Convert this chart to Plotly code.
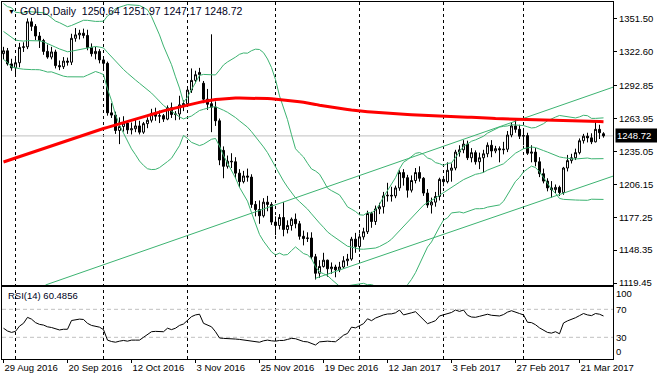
import numpy as np
import pandas as pd
import plotly.graph_objects as go

# ---------------- data ----------------
symbol_title = "GOLD,Daily"

# trading days shown (weekdays, broker closed 26 Dec 2016 and 2 Jan 2017)
dates = pd.bdate_range("2016-08-29", "2017-03-29")
dates = dates.drop([pd.Timestamp("2016-12-26"), pd.Timestamp("2017-01-02")])

# closes of the 20 sessions before the first visible bar (for Bollinger 20)
pre_close = [1352.5, 1366.5, 1357.0, 1363.0, 1335.5, 1335.0, 1340.0, 1346.0, 1337.0, 1335.5,
             1339.0, 1346.0, 1350.0, 1349.5, 1341.0, 1338.0, 1339.5, 1324.5, 1323.0, 1321.0]

open_ = [1321.0, 1323.5, 1312.0, 1308.5, 1313.0, 1326.5, 1327.0, 1349.0, 1345.0, 1336.5,
         1332.5, 1323.0, 1318.0, 1322.5, 1310.5, 1309.5, 1314.5, 1313.5, 1334.5, 1337.5,
         1339.0, 1337.0, 1326.5, 1321.0, 1323.0, 1315.5, 1312.5, 1269.0, 1267.0, 1253.5,
         1257.0, 1260.0, 1254.0, 1255.0, 1257.5, 1252.0, 1259.5, 1262.5, 1268.5, 1266.0,
         1266.5, 1263.5, 1273.5, 1267.5, 1268.0, 1276.0, 1277.0, 1289.0, 1297.5, 1302.5,
         1295.0, 1281.0, 1277.0, 1274.0, 1262.0, 1236.0, 1222.0, 1226.5, 1226.0, 1216.0,
         1208.5, 1213.5, 1212.5, 1188.5, 1184.0, 1178.5, 1190.5, 1188.5, 1173.0, 1170.0,
         1177.0, 1166.5, 1170.0, 1175.5, 1171.5, 1160.5, 1158.5, 1159.0, 1142.5, 1128.0,
         1134.0, 1139.5, 1132.0, 1133.5, 1131.0, 1133.5, 1139.0, 1140.5, 1158.0, 1151.5,
         1160.0, 1164.5, 1180.5, 1173.5, 1184.5, 1186.5, 1196.0, 1196.5, 1196.0, 1203.0,
         1216.5, 1212.0, 1201.0, 1209.5, 1216.5, 1211.5, 1198.5, 1188.0, 1190.5, 1195.5,
         1210.5, 1208.5, 1218.5, 1220.5, 1234.5, 1236.5, 1241.5, 1229.5, 1234.0, 1226.0,
         1229.5, 1233.0, 1240.5, 1235.5, 1237.5, 1236.5, 1237.0, 1249.5, 1257.5, 1254.5,
         1248.5, 1249.0, 1233.5, 1234.5, 1226.0, 1215.5, 1209.0, 1203.0, 1201.5, 1203.5,
         1199.0, 1220.5, 1227.0, 1229.5, 1234.0, 1244.5, 1248.5, 1247.0, 1243.5, 1254.5,
         1250.64]
high = [1327.0, 1326.0, 1316.5, 1316.5, 1330.5, 1331.0, 1352.0, 1352.5, 1347.0, 1340.0,
        1334.0, 1329.0, 1327.0, 1324.5, 1315.0, 1318.0, 1317.5, 1338.5, 1343.5, 1342.0,
        1343.0, 1342.0, 1330.0, 1327.0, 1325.0, 1318.0, 1314.0, 1277.5, 1270.0, 1265.0,
        1266.0, 1262.5, 1260.5, 1263.0, 1262.0, 1261.0, 1265.0, 1272.5, 1273.5, 1271.0,
        1268.0, 1275.5, 1278.0, 1270.5, 1284.0, 1280.0, 1291.0, 1308.0, 1306.0, 1308.5,
        1297.0, 1290.0, 1338.0, 1279.0, 1264.0, 1239.5, 1231.5, 1233.5, 1230.0, 1219.5,
        1218.0, 1220.0, 1215.0, 1191.5, 1192.0, 1194.0, 1196.0, 1190.5, 1178.0, 1180.0,
        1190.5, 1174.5, 1177.0, 1180.5, 1174.0, 1165.5, 1164.0, 1164.0, 1145.0, 1139.5,
        1146.0, 1140.0, 1137.5, 1135.5, 1138.0, 1143.0, 1145.0, 1160.0, 1163.5, 1163.0,
        1168.0, 1183.0, 1182.0, 1187.5, 1190.0, 1199.5, 1207.5, 1204.0, 1205.0, 1218.5,
        1219.5, 1214.5, 1214.0, 1220.5, 1222.0, 1212.5, 1202.0, 1194.5, 1199.5, 1212.0,
        1213.5, 1225.5, 1224.5, 1236.5, 1240.5, 1245.0, 1244.5, 1238.0, 1236.0, 1234.0,
        1236.5, 1243.0, 1245.0, 1240.0, 1239.5, 1243.5, 1253.0, 1260.5, 1263.5, 1258.5,
        1253.0, 1251.5, 1240.5, 1238.0, 1230.0, 1220.0, 1211.5, 1209.0, 1206.0, 1205.0,
        1221.5, 1232.0, 1233.0, 1237.5, 1246.5, 1250.5, 1251.5, 1251.0, 1261.0, 1258.5,
        1251.97]
low = [1316.0, 1310.5, 1306.0, 1302.5, 1309.0, 1322.5, 1325.0, 1341.0, 1333.0, 1326.0,
       1320.0, 1316.5, 1316.0, 1308.0, 1306.5, 1307.5, 1310.5, 1311.0, 1331.5, 1333.5,
       1334.5, 1324.0, 1318.5, 1316.0, 1312.5, 1308.0, 1266.5, 1264.5, 1250.5, 1241.5,
       1252.5, 1250.5, 1250.0, 1252.0, 1250.0, 1250.5, 1255.5, 1260.5, 1262.0, 1260.0,
       1261.0, 1262.5, 1264.5, 1262.5, 1263.0, 1270.5, 1274.5, 1286.5, 1295.0, 1296.5,
       1277.5, 1271.5, 1252.0, 1257.5, 1223.0, 1211.5, 1220.0, 1220.5, 1211.5, 1203.5,
       1207.0, 1208.5, 1185.5, 1178.0, 1171.5, 1177.0, 1182.5, 1170.5, 1161.5, 1166.5,
       1160.5, 1163.0, 1165.5, 1167.5, 1157.5, 1152.5, 1155.5, 1140.5, 1122.5, 1124.0,
       1133.0, 1125.0, 1127.5, 1124.5, 1129.0, 1132.0, 1134.5, 1139.0, 1146.0, 1147.0,
       1157.5, 1162.5, 1168.0, 1170.5, 1180.0, 1180.5, 1191.0, 1191.0, 1194.0, 1200.5,
       1205.0, 1194.5, 1199.0, 1207.0, 1208.5, 1196.0, 1185.5, 1180.5, 1186.5, 1192.0,
       1204.5, 1207.0, 1208.5, 1218.5, 1230.5, 1233.5, 1227.5, 1225.5, 1223.5, 1219.5,
       1216.5, 1230.0, 1230.0, 1233.5, 1225.5, 1232.5, 1234.5, 1247.5, 1251.5, 1246.0,
       1240.5, 1232.0, 1225.5, 1222.0, 1212.5, 1207.0, 1200.0, 1194.5, 1198.5, 1196.0,
       1197.0, 1217.5, 1224.5, 1227.5, 1232.5, 1242.0, 1243.0, 1241.5, 1243.0, 1246.0,
       1247.17]
close = [1323.5, 1312.0, 1308.5, 1313.0, 1326.5, 1327.0, 1349.0, 1345.0, 1336.5, 1332.5,
         1323.0, 1318.0, 1322.5, 1310.5, 1309.5, 1314.5, 1313.5, 1334.5, 1337.5, 1339.0,
         1337.0, 1326.5, 1321.0, 1323.0, 1315.5, 1312.5, 1269.0, 1267.0, 1253.5, 1257.0,
         1260.0, 1254.0, 1255.0, 1257.5, 1252.0, 1259.5, 1262.5, 1268.5, 1266.0, 1266.5,
         1263.5, 1273.5, 1267.5, 1268.0, 1276.0, 1277.0, 1289.0, 1297.5, 1302.5, 1304.5,
         1281.0, 1276.5, 1274.0, 1262.0, 1227.5, 1222.0, 1226.5, 1226.0, 1216.0, 1208.5,
         1213.5, 1212.5, 1188.5, 1184.0, 1178.5, 1190.5, 1188.5, 1173.0, 1170.0, 1177.0,
         1166.5, 1170.0, 1175.5, 1171.5, 1160.5, 1158.5, 1159.0, 1142.5, 1128.0, 1134.0,
         1139.5, 1132.0, 1133.5, 1131.0, 1133.5, 1139.0, 1140.5, 1158.0, 1151.5, 1160.0,
         1164.5, 1180.5, 1173.5, 1184.5, 1186.5, 1196.0, 1196.5, 1196.0, 1203.0, 1216.5,
         1212.0, 1201.0, 1209.5, 1216.5, 1211.5, 1198.5, 1188.0, 1190.5, 1195.5, 1210.5,
         1208.5, 1218.5, 1220.5, 1234.5, 1236.5, 1241.5, 1229.5, 1234.0, 1226.0, 1229.5,
         1233.0, 1240.5, 1235.5, 1237.5, 1236.5, 1237.0, 1249.5, 1257.5, 1254.5, 1248.5,
         1249.0, 1233.5, 1234.5, 1226.0, 1215.5, 1209.0, 1203.0, 1201.5, 1203.5, 1199.0,
         1220.5, 1227.0, 1229.5, 1234.0, 1244.5, 1248.5, 1247.0, 1243.5, 1254.5, 1251.5,
         1248.72]

# 200-period moving average
ma200 = [1225.8, 1227.0, 1228.2, 1229.4, 1230.6, 1231.8, 1233.0, 1234.2, 1235.4, 1236.6,
         1237.8, 1239.0, 1240.2, 1241.4, 1242.5, 1243.7, 1244.9, 1246.1, 1247.3, 1248.5,
         1249.7, 1250.9, 1252.1, 1253.3, 1254.2, 1255.2, 1256.2, 1257.3, 1258.3, 1259.3,
         1260.3, 1261.4, 1262.4, 1263.4, 1264.4, 1265.5, 1266.5, 1267.5, 1268.7, 1269.8,
         1270.7, 1271.6, 1272.5, 1273.4, 1274.3, 1275.2, 1276.0, 1276.8, 1277.5, 1278.2,
         1278.9, 1279.6, 1280.3, 1280.7, 1281.0, 1281.4, 1281.7, 1282.0, 1282.0, 1282.0,
         1282.0, 1281.9, 1281.9, 1281.8, 1281.7, 1281.6, 1281.5, 1281.3, 1281.0, 1280.8,
         1280.6, 1280.3, 1279.8, 1279.3, 1278.8, 1278.3, 1277.8, 1277.2, 1276.4, 1275.6,
         1275.0, 1274.5, 1274.0, 1273.5, 1273.0, 1272.5, 1272.0, 1271.5, 1271.0, 1270.6,
         1270.3, 1270.0, 1269.7, 1269.4, 1269.1, 1268.8, 1268.6, 1268.4, 1268.2, 1268.0,
         1267.8, 1267.6, 1267.4, 1267.2, 1267.1, 1266.9, 1266.8, 1266.6, 1266.5, 1266.3,
         1266.2, 1266.0, 1265.9, 1265.7, 1265.5, 1265.4, 1265.2, 1265.1, 1264.8, 1264.5,
         1264.4, 1264.3, 1264.2, 1264.0, 1263.9, 1263.8, 1263.7, 1263.5, 1263.4, 1263.3,
         1263.3, 1263.2, 1263.2, 1263.1, 1263.1, 1263.0, 1263.0, 1262.9, 1262.9, 1262.8,
         1262.8, 1262.7, 1262.7, 1262.5, 1262.3, 1262.1, 1261.9, 1261.7, 1261.5, 1261.4,
         1261.2]

# RSI(14)
rsi = [43.0, 39.0, 37.0, 38.5, 46.0, 50.0, 58.5, 56.0, 51.0, 48.5,
       47.5, 45.0, 44.0, 42.0, 40.5, 41.5, 41.5, 54.0, 55.5, 56.0,
       55.5, 50.0, 47.0, 45.5, 44.5, 41.0, 26.0, 24.0, 23.0, 24.5,
       25.5, 24.5, 26.0, 26.0, 26.0, 30.0, 33.5, 38.0, 38.5, 38.0,
       38.0, 43.0, 41.0, 43.0, 47.0, 49.0, 55.0, 59.5, 62.0, 63.0,
       50.0, 47.0, 45.0, 38.0, 29.0, 28.5, 28.5, 28.0, 27.5, 27.0,
       26.0, 25.0, 24.0, 23.5, 23.0, 25.0, 26.0, 25.0, 24.5, 25.5,
       25.5, 27.0, 28.5, 28.0, 26.0, 24.0, 23.5, 21.0, 19.0, 23.5,
       24.5, 24.5, 24.0, 23.7, 28.0, 33.0, 35.5, 44.5, 43.5, 46.0,
       49.5, 56.5, 53.8, 57.5, 60.0, 62.0, 63.3, 63.5, 65.0, 69.0,
       62.0, 63.0, 65.0, 66.6, 61.0, 55.0, 49.5, 51.5, 53.8, 60.5,
       62.5, 64.0, 65.5, 69.0, 67.0, 69.0, 61.5, 59.0, 58.6, 60.0,
       61.5, 63.0, 61.5, 61.0, 60.5, 62.5, 66.0, 68.0, 66.5, 64.0,
       62.0, 51.5, 51.0, 48.0, 43.5, 40.0, 37.0, 36.0, 38.0, 35.0,
       50.5, 53.5, 55.5, 58.0, 61.0, 64.0, 62.0, 61.0, 64.0, 63.0,
       60.4856]
rsi_label = "RSI(14) 60.4856"

# equidistant channel (bar index, price) anchors
chan_upper_idx = [10.5, 152.5]
chan_upper_price = [1117.7, 1291.7]
chan_lower_idx = [78.0, 152.5]
chan_lower_price = [1123.6, 1213.5]

price_ticks = [1351.50, 1322.60, 1292.85, 1263.95, 1235.05, 1206.15, 1177.25, 1148.35, 1119.45]
rsi_levels = [70, 30]

# ---------------- derived ----------------
n = len(close)
assert len(dates) == n
xi = np.arange(n)

s = pd.Series(pre_close + close, dtype=float)
bb_mid = s.rolling(20).mean().iloc[-n:].to_numpy()
bb_sd = s.rolling(20).std(ddof=0).iloc[-n:].to_numpy()
bb_up = bb_mid + 2 * bb_sd
bb_lo = bb_mid - 2 * bb_sd

label_idx = list(range(0, n, 16))
label_txt = [f"{dates[i].day} {dates[i].strftime('%b %Y')}" for i in label_idx]
sep_idx = [i for i in range(1, n) if dates[i].month != dates[i - 1].month]

FONT = "Liberation Sans, Arial, sans-serif"
FS = 9.5
FS_HEAD = 10.5
GREEN = "#3CB371"
NB = "\u00a0"

fig = go.Figure()

fig.add_trace(go.Candlestick(
    x=xi, open=open_, high=high, low=low, close=close,
    increasing=dict(line=dict(color="black", width=1), fillcolor="white"),
    decreasing=dict(line=dict(color="black", width=1), fillcolor="black"),
    whiskerwidth=0, showlegend=False, hoverinfo="skip", xaxis="x", yaxis="y"))

for band in (bb_up, bb_mid, bb_lo):
    fig.add_trace(go.Scatter(x=xi, y=band, mode="lines", line=dict(color=GREEN, width=1),
                             showlegend=False, hoverinfo="skip", xaxis="x", yaxis="y"))

fig.add_trace(go.Scatter(x=chan_upper_idx, y=chan_upper_price, mode="lines",
                         line=dict(color=GREEN, width=1), showlegend=False, hoverinfo="skip",
                         xaxis="x", yaxis="y"))
fig.add_trace(go.Scatter(x=chan_lower_idx, y=chan_lower_price, mode="lines",
                         line=dict(color=GREEN, width=1), showlegend=False, hoverinfo="skip",
                         xaxis="x", yaxis="y"))

fig.add_trace(go.Scatter(x=xi, y=ma200, mode="lines", line=dict(color="#FF0000", width=3),
                         showlegend=False, hoverinfo="skip", xaxis="x", yaxis="y"))

fig.add_trace(go.Scatter(x=xi, y=rsi, mode="lines", line=dict(color="black", width=1),
                         showlegend=False, hoverinfo="skip", xaxis="x2", yaxis="y2"))

shapes = []
for i in sep_idx:
    shapes.append(dict(type="line", xref="x", yref="paper", x0=i, x1=i, y0=0, y1=1,
                       line=dict(color="black", width=1, dash="3px,3px"), layer="below"))
for lv in rsi_levels:
    shapes.append(dict(type="line", xref="x2 domain", yref="y2", x0=0, x1=1, y0=lv, y1=lv,
                       line=dict(color="#C0C0C0", width=1, dash="4px,3px"), layer="below"))
shapes.append(dict(type="line", xref="x domain", yref="y", x0=0, x1=1, y0=close[-1], y1=close[-1],
                   line=dict(color="#C0C0C0", width=1), layer="below"))

H_TOP, H_BOT = 2, 21
PLOT_H = 380 - H_TOP - H_BOT
main_bottom = (359 - 285) / PLOT_H
rsi_top = (359 - 287) / PLOT_H

axis_common = dict(showline=True, mirror=True, linecolor="black", linewidth=1,
                   showgrid=False, zeroline=False, automargin=False)

ohlc_txt = " ".join(f"{v:.2f}" for v in (open_[-1], high[-1], low[-1], close[-1]))
header = f"{symbol_title}{NB}{NB}{ohlc_txt}"

annotations = [
    dict(text="▼", xref="paper", yref="paper", x=0, y=1, xanchor="left", yanchor="top",
         xshift=4, yshift=-4, showarrow=False, font=dict(family=FONT, size=7, color="black")),
    dict(text=header,
         xref="paper", yref="paper", x=0, y=1, xanchor="left", yanchor="top",
         xshift=16, yshift=-1, showarrow=False, font=dict(family=FONT, size=FS_HEAD, color="#000020")),
    dict(text=rsi_label, xref="paper", yref="y2 domain", x=0, y=1, xanchor="left", yanchor="top",
         xshift=4, yshift=-1, showarrow=False, font=dict(family=FONT, size=FS, color="#000020")),
    dict(text=f"{close[-1]:.2f}", xref="paper", yref="y", x=1, y=close[-1], xanchor="left",
         yanchor="middle", xshift=2, showarrow=False, bgcolor="black", borderpad=1, width=40,
         align="left", font=dict(family=FONT, size=FS, color="white")),
]

fig.update_layout(
    width=657, height=380,
    margin=dict(l=2, r=44, t=H_TOP, b=H_BOT, pad=0, autoexpand=False),
    paper_bgcolor="white", plot_bgcolor="white",
    hovermode=False, showlegend=False,
    font=dict(family=FONT, size=FS, color="black"),
    xaxis=dict(domain=[0, 1], anchor="y", range=[-0.375, 152.375], showticklabels=False,
               ticks="", rangeslider=dict(visible=False), **axis_common),
    xaxis2=dict(domain=[0, 1], anchor="y2", matches="x", range=[-0.375, 152.375],
                tickmode="array", tickvals=label_idx, ticktext=label_txt, tickangle=0,
                ticks="outside", ticklen=3, tickcolor="black",
                ticklabelposition="outside right", tickfont=dict(family=FONT, size=FS),
                rangeslider=dict(visible=False), **axis_common),
    yaxis=dict(domain=[main_bottom, 1], anchor="x", side="right", range=[1117.69, 1366.4],
               tickmode="array", tickvals=price_ticks, ticktext=[f"{v:.2f}" for v in price_ticks],
               ticks="outside", ticklen=3, tickcolor="black", tickfont=dict(family=FONT, size=FS),
               **axis_common),
    yaxis2=dict(domain=[0, rsi_top], anchor="x2", side="right", range=[-1, 101.9],
                tickmode="array", tickvals=[92, 70, 30, 9], ticktext=["100", "70", "30", "0"],
                ticks="", tickfont=dict(family=FONT, size=FS), **axis_common),
    shapes=shapes,
    annotations=annotations,
)

fig.write_html("out.html", config={"displayModeBar": False, "responsive": False},
               post_script="document.body.style.margin='0';document.body.style.overflow='hidden';")
